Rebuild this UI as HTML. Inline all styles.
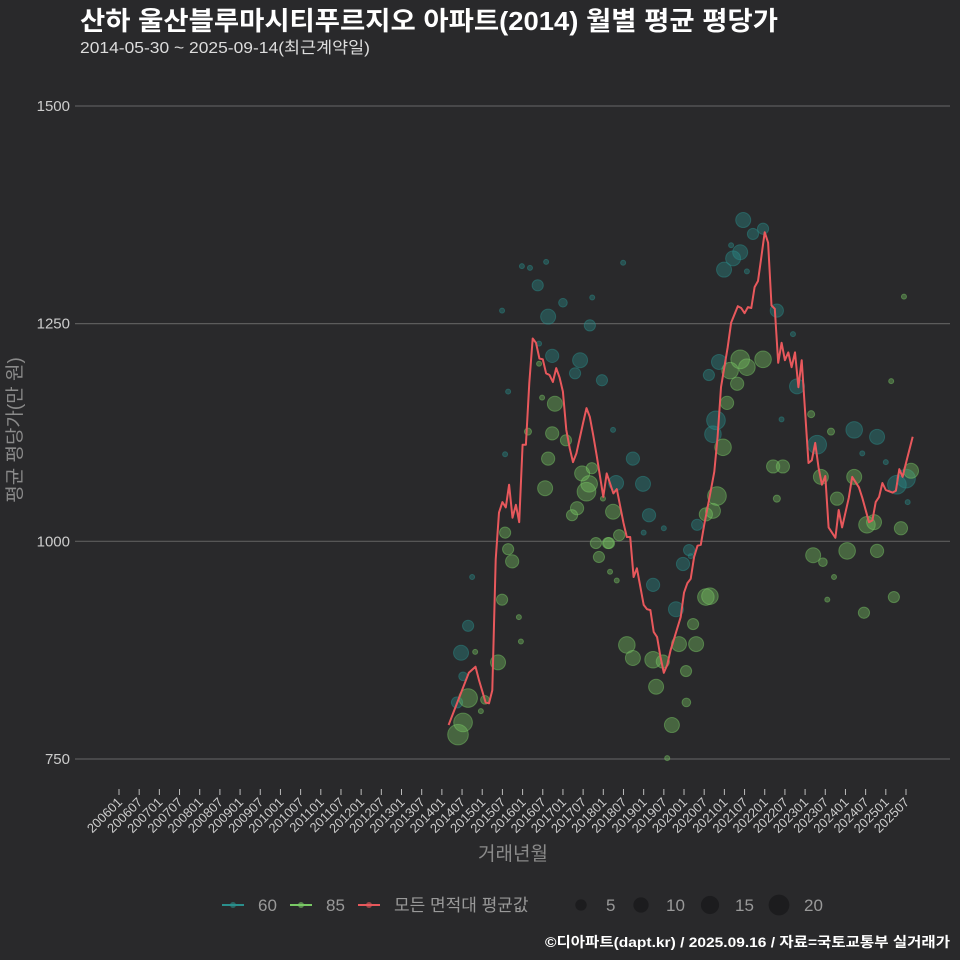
<!DOCTYPE html>
<html><head><meta charset="utf-8"><style>
html,body{margin:0;padding:0;background:#29292b;}
svg{display:block;font-family:"Liberation Sans","Noto Sans CJK KR",sans-serif;}
</style></head><body>
<svg id="chart" width="960" height="960" viewBox="0 0 960 960" xmlns="http://www.w3.org/2000/svg">
<rect width="960" height="960" fill="#29292b"/>
<text x="80" y="30" fill="#ffffff" font-size="26" font-weight="bold" textLength="698" lengthAdjust="spacingAndGlyphs">산하 울산블루마시티푸르지오 아파트(2014) 월별 평균 평당가</text>
<text x="80" y="53" fill="#dddddd" font-size="16" textLength="290" lengthAdjust="spacingAndGlyphs">2014-05-30 ~ 2025-09-14(최근계약일)</text>
<g id="grid"></g>
<g id="yaxis"></g>
<g id="xaxis"></g>
<g id="bubbles"></g>
<g id="line"></g>
<text x="16" y="430" transform="rotate(-90 16 430)" text-anchor="middle" dominant-baseline="middle" fill="#8a8a8a" font-size="19">평균 평당가(만 원)</text>
<text x="513" y="860" text-anchor="middle" fill="#8a8a8a" font-size="19">거래년월</text>
<g id="legend"></g>
<text x="950" y="947" text-anchor="end" fill="#ffffff" font-size="14" font-weight="bold" textLength="405" lengthAdjust="spacingAndGlyphs">©디아파트(dapt.kr) / 2025.09.16 / 자료=국토교통부 실거래가</text>
</svg>
<script>
const yTicks = [750, 1000, 1250, 1500];
const xTickYears = [];
for (let y = 2006; y <= 2025; y++) { xTickYears.push(y + "01"); xTickYears.push(y + "07"); }
// average line: month index since 2006-01, values
const lineMonth = [98,100,104,106,107,109,110,111,112,113,114,115,116,117,118,119,120,121,122,123,124,125,126,127,128,129,130,131,132,133,134,135,136,138,139,140,141,142,144,145,147,148,150,151,152,153,154,156,157,158,159,160,161,162,163,164,167,168,169,170,171,172,173,174,175,176,177,178,179,181,182,184,185,186,187,188,189,190,191,192,193,194,195,196,197,198,199,200,201,202,203,205,206,207,208,209,210,211,213,214,215,217,218,220,221,223,224,225,226,227,228,230,231,232,233,234,236];
const lineValue = [789,809,849,856,841,815,814,829,979,1033,1045,1039,1065,1027,1042,1022,1111,1111,1182,1233,1228,1210,1209,1193,1191,1183,1199,1188,1172,1128,1107,1091,1101,1136,1153,1143,1122,1099,1051,1078,1055,1060,1021,1005,1005,959,969,927,922,921,896,890,867,849,858,875,913,941,952,957,982,995,996,1019,1039,1059,1080,1120,1177,1223,1251,1270,1268,1262,1269,1268,1292,1299,1327,1355,1343,1271,1267,1205,1228,1208,1217,1200,1217,1177,1208,1090,1093,1113,1085,1065,1075,1016,1004,1036,1016,1050,1074,1062,1050,1022,1024,1045,1051,1067,1059,1056,1058,1083,1074,1090,1120];
// bubbles: type 60 (small area) & 85
const b60Month = [101.7,103.8,105,100.5,102.3,114.8,115.7,124.9,128.8,137.1,135.6,143.6,140,124.5,127.6,127,122.2,119.8,113.9,132,140.7,146.9,152.8,147.8,155.8,157.6,158.8,165.6,169.5,171.9,167.7,177.5,176.6,178.4,175.4,179.9,182.6,184.7,188.5,191.5,185.6,149.9,195.6,200.4,201.6,207.6,218.6,225.4,231.3,234,156,162,170,182,186.7,197,221,228,234.5];
const b60Value = [872,903,959,815,845,1100,1172,1227,1213,1208,1193,1185,1248,1294,1258,1321,1314,1316,1265,1274,1280,1128,1095,1067,1066,1030,950,922,990,1019,974,1139,1123,1206,1191,1312,1325,1332,1353,1359,1369,1320,1265,1238,1178,1111,1128,1120,1065,1072,1010,1015,983,1340,1310,1140,1101,1091,1045];
const b60Count = [9,5,1,5,3,1,1,1,7,9,5,5,5,5,9,1,1,1,1,3,1,1,7,9,9,7,7,9,5,5,7,14,11,9,5,9,9,9,5,5,9,1,7,1,9,14,11,9,14,14,1,1,1,1,1,1,1,1,1];
const b85Month = [100.8,102.3,103.8,105.9,108.8,107.6,112.7,114.8,115.7,116.9,113.9,118.9,119.5,121.6,125.8,124.9,129.6,128.8,127.6,126.7,132.9,137.7,140.6,139,139.8,136.2,134.7,143.9,141.8,145.4,142.7,146.9,148.7,145.7,151,152.8,158.8,161.7,159.7,166.5,171.6,168.6,170.7,174.5,175.7,177.8,176.6,174.5,179.6,180.8,183.8,181.7,184.7,186.7,191.5,164.4,163,168.7,233.4,229.6,205.8,211.7,194.5,197.4,208.7,218.6,235.5,195.6,213.5,222.4,224.5,232.5,206.4,216.5,225.4,209.3,212.6,210.6,221.5,230.4,148,146];
const b85Value = [778,792,820,873,818,805,861,1010,991,977,933,913,885,1126,1165,1204,1158,1124,1095,1061,1116,1078,1084,1057,1066,1038,1030,1049,998,998,982,1034,1007,998,881,866,864,862,833,882,882,851,905,936,937,1052,1035,1031,1108,1159,1181,1196,1209,1200,1209,789,751,815,1281,1184,1146,1126,1086,1086,1074,1074,1081,1049,1049,1019,1022,1015,984,989,989,976,959,933,918,936,955,965];
const b85Count = [17,14,14,1,3,1,9,5,5,7,5,1,1,2,1,1,9,7,7,9,5,9,5,14,11,7,5,1,5,5,5,9,5,5,11,9,11,7,9,9,9,5,5,11,11,14,9,7,11,7,7,11,14,11,11,9,1,3,1,1,2,2,7,7,9,9,9,2,7,11,9,7,9,11,7,3,1,1,5,5,1,1];

const NS = "http://www.w3.org/2000/svg";
const xOf = m => 119 + m * 3.3632;
const yOf = v => 759 - (v - 750) * 0.8707;
const rOf = c => Math.sqrt(c) * 2.5;
function mk(tag, attrs, parent) { const e = document.createElementNS(NS, tag); for (const k in attrs) e.setAttribute(k, attrs[k]); parent.appendChild(e); return e; }

const grid = document.getElementById('grid'), yaxis = document.getElementById('yaxis');
yTicks.forEach(t => {
  const l = mk('line', {x1: 75, x2: 950, y1: yOf(t), y2: yOf(t), stroke: '#5c5c5c', 'stroke-width': 1.2}, grid);
  
  
  const tx = mk('text', {x: 70, y: yOf(t) + 5, 'text-anchor': 'end', fill: '#cccccc', 'font-size': 15}, yaxis);
  tx.textContent = t;
  
  
});
const xaxis = document.getElementById('xaxis');
xTickYears.forEach((lab, i) => {
  const x = xOf(i * 6);
  const l = mk('line', {x1: x, x2: x, y1: 789, y2: 795, stroke: '#bbbbbb', 'stroke-width': 1}, xaxis);
  
  
  const t = mk('text', {x: x + 4, y: 803, 'text-anchor': 'end', fill: '#cccccc', 'font-size': 13, transform: `rotate(-45 ${x + 4} 803)`}, xaxis);
  t.textContent = lab;
  
  
});
const bub = document.getElementById('bubbles');
function drawB(ms, vs, cs, col, nm) {
  ms.forEach((m, i) => {
    const c = mk('circle', {cx: xOf(m), cy: yOf(vs[i]), r: rOf(cs[i]), fill: col, 'fill-opacity': 0.38, stroke: col, 'stroke-opacity': 0.45, 'stroke-width': 1}, bub);
    
    
  });
}
drawB(b60Month, b60Value, b60Count, '#2a8f8c', 'bubble-60');
drawB(b85Month, b85Value, b85Count, '#79c965', 'bubble-85');
const pts = lineMonth.map((m, i) => xOf(m).toFixed(1) + ',' + yOf(lineValue[i]).toFixed(1)).join(' ');
const pl = mk('polyline', {points: pts, fill: 'none', stroke: '#e8585c', 'stroke-width': 2, 'stroke-linejoin': 'round'}, document.getElementById('line'));



const lg = document.getElementById('legend');
const leg = [['#2a8f8c', '60', 222], ['#79c965', '85', 290], ['#e8585c', '모든 면적대 평균값', 358]];
leg.forEach(([c, t, x]) => {
  const g = mk('g', {}, lg);
  
  
  mk('line', {x1: x, x2: x + 22, y1: 905, y2: 905, stroke: c, 'stroke-width': 2}, g);
  mk('circle', {cx: x + 11, cy: 905, r: 3, fill: c, 'fill-opacity': 0.6}, g);
  const tx = mk('text', {x: x + 36, y: 911, fill: '#999999', 'font-size': 17}, g);
  tx.textContent = t;
});
[[5, 581], [10, 641], [15, 710], [20, 779]].forEach(([n, x]) => {
  const g = mk('g', {}, lg);
  
  
  mk('circle', {cx: x, cy: 905, r: rOf(n * 0.7) + 1, fill: '#1c1c1e'}, g);
  const tx = mk('text', {x: x + 25, y: 911, fill: '#999999', 'font-size': 17}, g);
  tx.textContent = n;
});
</script>
</body></html>
